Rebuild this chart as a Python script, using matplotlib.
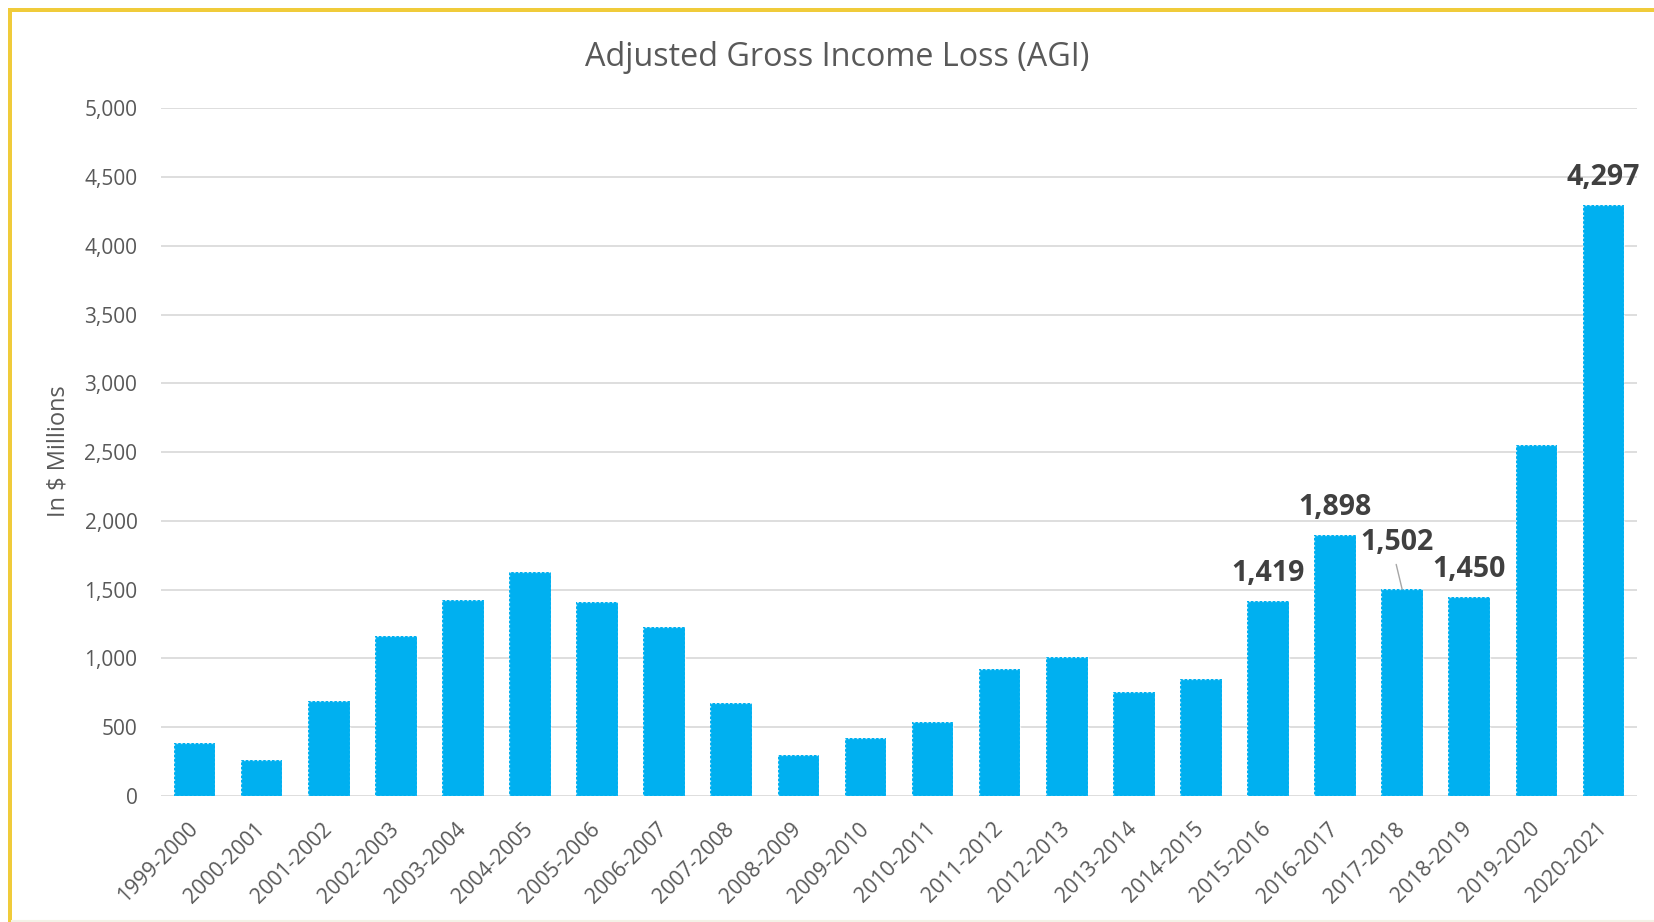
import matplotlib
matplotlib.use("Agg")
import matplotlib.pyplot as plt
from matplotlib.patches import Rectangle
from matplotlib.lines import Line2D

plt.rcParams['font.family'] = ['Open Sans', 'DejaVu Sans']

years = ["1999-2000", "2000-2001", "2001-2002", "2002-2003", "2003-2004",
         "2004-2005", "2005-2006", "2006-2007", "2007-2008", "2008-2009",
         "2009-2010", "2010-2011", "2011-2012", "2012-2013", "2013-2014",
         "2014-2015", "2015-2016", "2016-2017", "2017-2018", "2018-2019",
         "2019-2020", "2020-2021"]
agi_loss = [388, 262, 693, 1166, 1423, 1629, 1413, 1229, 676, 300,
            424, 536, 920, 1011, 758, 848, 1419, 1898, 1502, 1450,
            2552, 4297]
labeled_years = ["2015-2016", "2016-2017", "2017-2018", "2018-2019", "2020-2021"]
yticks = [0, 500, 1000, 1500, 2000, 2500, 3000, 3500, 4000, 4500, 5000]

W, H = 1654, 922
fig = plt.figure(figsize=(W / 100, H / 100), dpi=100)
ax = fig.add_axes([161 / W, 1 - 796 / H, (1637 - 161) / W, (796 - 108.3) / H])

bar_color = '#00B0F0'
x = list(range(len(years)))
bars = ax.bar(x, agi_loss, width=0.62, color=bar_color, edgecolor='none', zorder=3)
ax.bar(x, agi_loss, width=0.62, fill=False, edgecolor='white', linewidth=0.9,
       linestyle=(0, (1.5, 2.0)), alpha=0.75, zorder=4)

ax.set_xlim(-0.5, len(years) - 0.5)
ax.set_ylim(0, 5000)
ax.set_yticks(yticks)
ax.set_yticklabels([f"{v:,}" for v in yticks])
ax.yaxis.grid(True, color='#D9D9D9', linewidth=1.25, zorder=0)
ax.set_axisbelow(True)
for s in ax.spines.values():
    s.set_visible(False)

ax.tick_params(axis='y', length=0, pad=17, labelsize=15, labelcolor='#595959')
ax.tick_params(axis='x', length=0, pad=21.5, labelsize=15.3, labelcolor='#595959')
ax.set_xticks(x)
ax.set_xticklabels(years, rotation=45, ha='right', va='center', rotation_mode='anchor')

# data labels
px = 0.72
lab_fs = 20.5
for yr in labeled_years:
    i = years.index(yr)
    v = agi_loss[i]
    if yr == "2017-2018":
        ax.annotate(f"{v:,}", xy=(i, v), xytext=(-5.7 * px, 39.4 * px),
                    textcoords='offset points', ha='center', va='baseline',
                    fontsize=lab_fs, fontweight='bold', color='#404040', zorder=6)
        ax.annotate("", xy=(i, v), xytext=(-6 * px, 25 * px),
                    textcoords='offset points',
                    arrowprops=dict(arrowstyle='-', color='#A6A6A6', lw=1.0,
                                    shrinkA=0, shrinkB=0), zorder=6)
    else:
        ax.annotate(f"{v:,}", xy=(i, v), xytext=(0, 20 * px),
                    textcoords='offset points', ha='center', va='baseline',
                    fontsize=lab_fs, fontweight='bold', color='#404040', zorder=6)

fig.text(837.5 / W, 1 - 65.7 / H, "Adjusted Gross Income Loss (AGI)",
         ha='center', va='baseline', fontsize=23.3, color='#595959')
fig.text(58 / W, 1 - 451 / H, "In $ Millions", rotation=90, ha='center',
         va='center', fontsize=17, color='#595959')

# frame: yellow border on left and top, faint line at bottom
yellow = '#F0CB3A'
fig.add_artist(Rectangle((8 / W, 0), 4 / W, 1 - 8 / H, transform=fig.transFigure,
                         facecolor=yellow, edgecolor='none'))
fig.add_artist(Rectangle((8 / W, 1 - 12 / H), 1 - 8 / W, 4 / H, transform=fig.transFigure,
                         facecolor=yellow, edgecolor='none'))
fig.add_artist(Line2D([12 / W, 1], [1 - 920.5 / H, 1 - 920.5 / H], transform=fig.transFigure,
                      color='#F3F1E6', linewidth=1.5))

fig.savefig("out.png", dpi=100, facecolor='white')
